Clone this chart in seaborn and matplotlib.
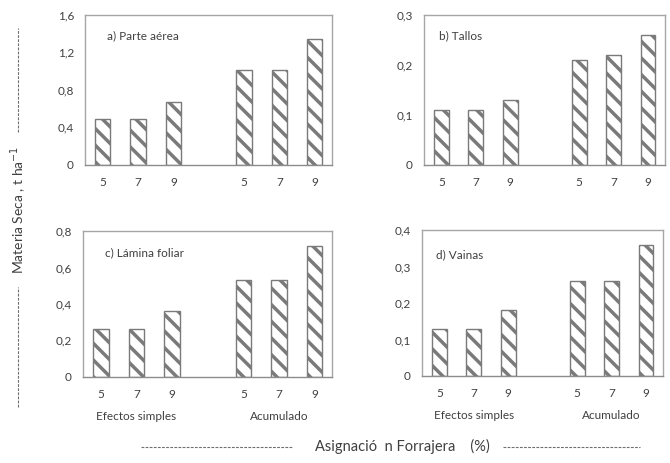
import numpy as np
import pandas as pd
import matplotlib
matplotlib.use('Agg')
import matplotlib.pyplot as plt
from matplotlib.lines import Line2D
from matplotlib.ticker import FuncFormatter
import seaborn as sns

# data
asignacion = ['5', '7', '9', '5', '7', '9']
slots = [0, 1, 2, 4, 5, 6]
parte_aerea = [0.49, 0.49, 0.67, 1.01, 1.01, 1.34]
tallos = [0.11, 0.11, 0.13, 0.21, 0.22, 0.26]
lamina_foliar = [0.26, 0.26, 0.36, 0.53, 0.53, 0.72]
vainas = [0.13, 0.13, 0.18, 0.26, 0.26, 0.36]
grupos = ['Efectos simples', 'Acumulado']

titles = ['a) Parte aérea', 'b) Tallos', 'c) Lámina foliar', 'd) Vainas']
series = [parte_aerea, tallos, lamina_foliar, vainas]
yticks = [[0, 0.4, 0.8, 1.2, 1.6], [0, 0.1, 0.2, 0.3],
          [0, 0.2, 0.4, 0.6, 0.8], [0, 0.1, 0.2, 0.3, 0.4]]

sns.set_style('white')
plt.rcParams['font.family'] = ['Lato', 'DejaVu Sans']
plt.rcParams['hatch.linewidth'] = 2.5
plt.rcParams['hatch.color'] = '#7a7a7a'

gray = '#7a7a7a'
txt = '#404040'

fig = plt.figure(figsize=(6.7, 4.63), dpi=100)
boxes = [[0.127, 0.644, 0.369, 0.324], [0.633, 0.644, 0.360, 0.324],
         [0.124, 0.186, 0.372, 0.315], [0.630, 0.188, 0.360, 0.315]]
title_pos = [(0.09, 0.86), (0.062, 0.86), (0.088, 0.85), (0.058, 0.83)]

def coma(v, pos):
    if v == 0:
        return '0'
    return ('%.1f' % v).replace('.', ',')

for i in range(4):
    ax = fig.add_axes(boxes[i])
    df = pd.DataFrame({'x': slots, 'y': series[i]})
    sns.barplot(data=df, x='x', y='y', native_scale=True, width=0.43,
                color='white', edgecolor=gray, linewidth=1.0, hatch='\\\\',
                ax=ax)
    ax.set_xlim(-0.5, 6.5)
    ax.set_ylim(0, yticks[i][-1])
    ax.set_yticks(yticks[i])
    ax.yaxis.set_major_formatter(FuncFormatter(coma))
    ax.set_xticks(slots)
    ax.set_xticklabels(asignacion)
    ax.tick_params(axis='both', length=0, labelsize=8.5, labelcolor=txt)
    ax.tick_params(axis='y', pad=8)
    ax.tick_params(axis='x', pad=9)
    ax.set_xlabel('')
    ax.set_ylabel('')
    for s in ax.spines.values():
        s.set_color('#a6a6a6')
        s.set_linewidth(1.0)
    ax.spines['bottom'].set_color('#8c8c8c')
    ax.text(title_pos[i][0], title_pos[i][1], titles[i], transform=ax.transAxes,
            fontsize=8.5, color=txt, va='center', ha='left')
    if i >= 2:
        trans = ax.get_xaxis_transform()
        ax.text(1, -0.27, grupos[0], transform=trans, ha='center',
                va='center', fontsize=8.5, color=txt)
        ax.text(5, -0.27, grupos[1], transform=trans, ha='center',
                va='center', fontsize=8.5, color=txt)

# y label with dashed leaders
fig.text(0.0276, 0.546, 'Materia Seca , t ha$^{-1}$', rotation=90,
         ha='center', va='center', fontsize=10, color=txt)
dash = dict(color='#6e6e6e', linewidth=0.8, linestyle=(0, (2.5, 1.2)))
fig.add_artist(Line2D([0.0276, 0.0276], [0.715, 0.94], **dash))
fig.add_artist(Line2D([0.0276, 0.0276], [0.121, 0.38], **dash))

# x label with dashed leaders
fig.text(0.6, 0.035, 'Asignació  n Forrajera    (%)', ha='center',
         va='center', fontsize=10.5, color=txt)
fig.add_artist(Line2D([0.21, 0.436], [0.034, 0.034], **dash))
fig.add_artist(Line2D([0.751, 0.955], [0.034, 0.034], **dash))

plt.savefig('out.png', dpi=100)
